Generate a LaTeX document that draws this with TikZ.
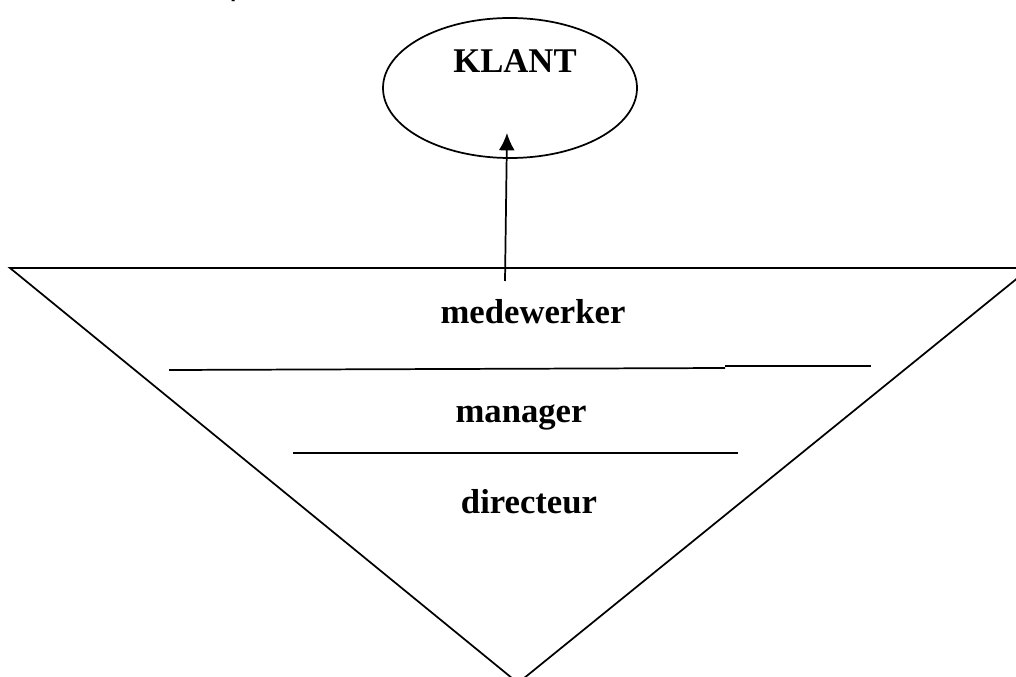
\documentclass[tikz,border=0pt]{standalone}
\usepackage{fontspec}
\setmainfont{Liberation Serif}
\setmonofont{Liberation Mono}
\usetikzlibrary{shapes.geometric,arrows.meta}

\begin{document}
\begin{tikzpicture}[x=0.75pt,y=-0.75pt,
  laag/.style={font=\fontsize{26}{30}\selectfont\bfseries, inner sep=0pt},
  lijn/.style={line width=1.3pt}]
\useasboundingbox (0,0) rectangle (1016,677);
\clip (0,0) rectangle (1016,677);
\node [font=\fontsize{26}{30}\selectfont\ttfamily, anchor=base, inner sep=0pt] (rest) at (239,-5) {p};
\node [ellipse, draw, lijn, minimum width=254*0.75pt, minimum height=140*0.75pt] (klant) at (510,88) {};
\node [laag] (klanttekst) at (515,61) {KLANT};
\draw [lijn] (10,268) -- (1030,268) -- (518,683) -- cycle;
\draw [lijn] (169,370) -- (725,368);
\draw [lijn] (725,366) -- (871,366);
\draw [lijn] (293,453) -- (738,453);
\node [laag] (medewerker) at (533,312) {medewerker};
\node [laag] (manager) at (521,417) {manager};
\node [laag] (directeur) at (529,502) {directeur};
\coordinate (voet) at (505,281);
\coordinate (punt) at (507,133);
\draw [lijn,-{Latex[length=13pt,width=12pt]}] (voet) -- (punt);
\end{tikzpicture}
\end{document}
